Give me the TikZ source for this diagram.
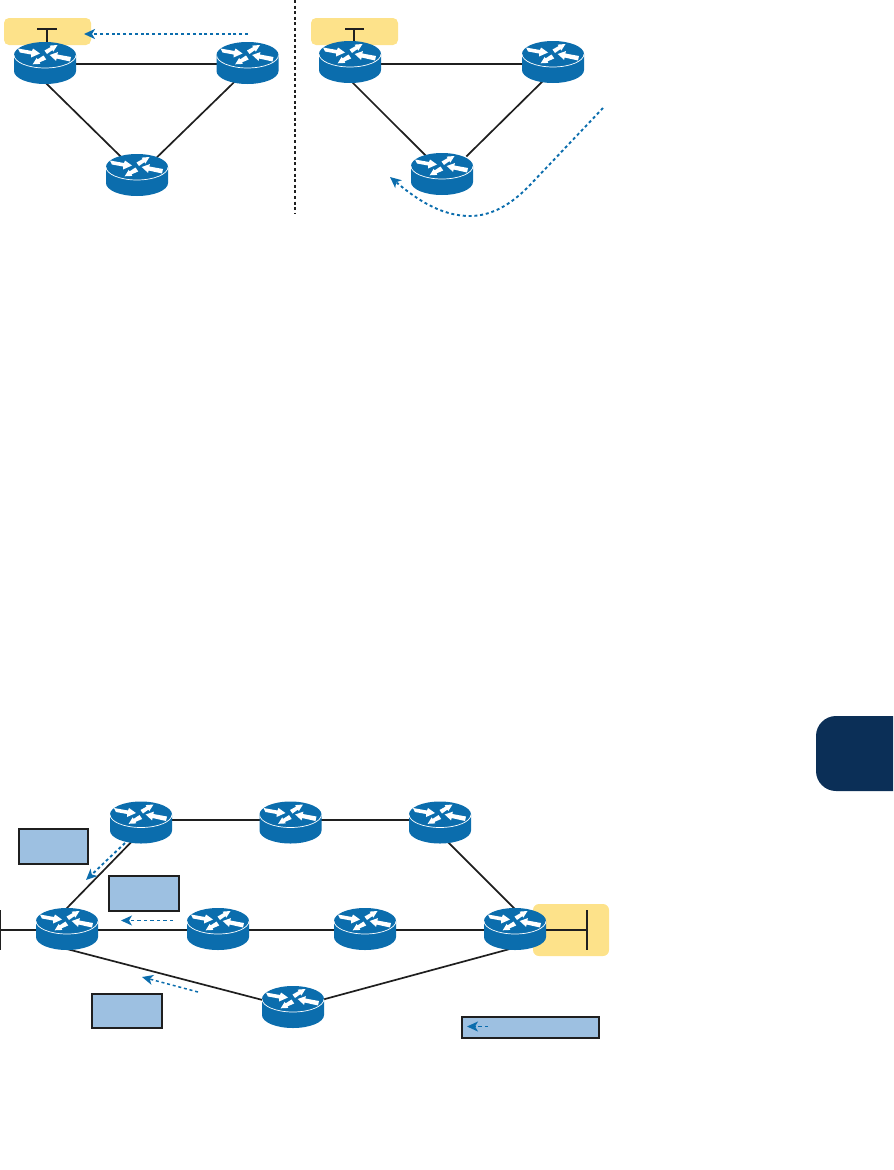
\documentclass[tikz,border=0pt]{standalone}
\usetikzlibrary{arrows.meta,backgrounds}
\definecolor{routerblue}{HTML}{0B6DAD}
\definecolor{zoneyellow}{HTML}{FDE28A}
\definecolor{boxblue}{HTML}{9DC0E1}
\definecolor{tabnavy}{HTML}{0B2F57}
\tikzset{
	router/.style={minimum width=62pt,minimum height=42pt,inner sep=0pt,outer sep=0pt,
		path picture={
			\begin{scope}[shift={(path picture bounding box.center)}]
				\fill[routerblue] (-31,-8) -- (-31,8) arc[start angle=180,end angle=0,x radius=31,y radius=13] -- (31,-8) -- cycle;
				\fill[routerblue] (0,-8) ellipse [x radius=31,y radius=13];
				\draw[white,line width=0.7pt] (-31,-8) arc[start angle=180,end angle=0,x radius=31,y radius=13];
				\fill[white] (-27,-14.5) -- (-13,-12) -- (-12,-14.5) -- (-5,-9.5) -- (-14,-5.5) -- (-14,-8.5) -- (-25,-10.5) -- cycle;
				\fill[white] (-0.5,-12.5) -- (5.6,-15.9) -- (4.7,-17.4) -- (12.5,-18) -- (8.3,-11.4) -- (7.4,-12.9) -- (2,-9) -- cycle;
				\fill[white] (26,-6) -- (12.4,-8.5) -- (12.9,-10.9) -- (4.7,-8) -- (11.1,-2.1) -- (11.6,-4.5) -- (25,-1.5) -- cycle;
				\fill[white] (1.2,-3.5) -- (-5.6,-0.6) -- (-4.7,0.9) -- (-12.3,1.3) -- (-8.3,-5.1) -- (-7.4,-3.6) -- (-1.5,-7.5) -- cycle;
			\end{scope}
		}},
	link/.style={line width=1.7pt,black!88,shorten <=-5pt,shorten >=-5pt},
	stub/.style={line width=1.1pt,black!88},
	zone/.style={fill=zoneyellow,rounded corners=5pt,inner sep=0pt,outer sep=0pt},
	costbox/.style={fill=boxblue,draw=black!88,line width=1.3pt,inner sep=0pt,outer sep=0pt},
	flow/.style={routerblue,line width=1.9pt,dash pattern=on 3pt off 2.8pt,-{Stealth[length=11pt,width=10pt,inset=3pt]}},
	thinflow/.style={routerblue,line width=1.1pt,dash pattern=on 3.5pt off 3pt,-{Stealth[length=11pt,width=10pt,inset=3pt]}},
}
\begin{document}
\begin{tikzpicture}[x=1pt,y=-1pt]
	\useasboundingbox (0,0) rectangle (894,1170);
	%Routeurs du haut
	\node[router] (R11) at (45,63) {};
	\node[router] (R12) at (247.5,63) {};
	\node[router] (R13) at (137,175) {};
	\node[router] (R21) at (350,62) {};
	\node[router] (R22) at (553,62) {};
	\node[router] (R23) at (442,174) {};
	%Routeurs du bas
	\node[router] (R31) at (141,822.5) {};
	\node[router] (R32) at (290.5,822.5) {};
	\node[router] (R33) at (440,822.5) {};
	\node[router] (R34) at (67,929) {};
	\node[router] (R35) at (218,929) {};
	\node[router] (R36) at (365,929) {};
	\node[router] (R37) at (515,929) {};
	\node[router] (R38) at (293,1007) {};
	%Rectangles bleus
	\node[costbox,minimum width=69pt,minimum height=35pt] (B1) at (53.5,846.5) {};
	\node[costbox,minimum width=70pt,minimum height=35pt] (B2) at (144,893.5) {};
	\node[costbox,line width=1.7pt,minimum width=70pt,minimum height=34pt] (B3) at (127,1011) {};
	\node[costbox,line width=1.7pt,minimum width=137pt,minimum height=21pt] (B4) at (530.5,1027.5) {};
	%Onglet
	\fill[tabnavy] (893,716) -- (836,716) arc[start angle=-90,end angle=-180,radius=20] -- (816,771) arc[start angle=180,end angle=90,radius=20] -- (893,791) -- cycle;
	%Extremites libres
	\coordinate (T1a) at (37,29);
	\coordinate (T1b) at (57,29);
	\coordinate (T1c) at (47,29);
	\coordinate (T2a) at (345,29);
	\coordinate (T2b) at (364,29);
	\coordinate (T2c) at (354,29);
	\coordinate (L1) at (0,930);
	\coordinate (L2) at (0.7,910);
	\coordinate (L3) at (0.7,950);
	\coordinate (D1) at (587,930);
	\coordinate (D2) at (587,910);
	\coordinate (D3) at (587,950);
	\coordinate (S1) at (295,0);
	\coordinate (S2) at (295,213);
	%Zones et liens
	\begin{scope}[on background layer]
		\node[zone,minimum width=87pt,minimum height=27pt] (Z1) at (47.5,31.5) {};
		\node[zone,minimum width=87pt,minimum height=27pt] (Z2) at (354.5,31.5) {};
		\node[zone,rounded corners=6pt,minimum width=76pt,minimum height=52pt] (Z3) at (571,930) {};
		\draw[link] (R11.-2) -- (R12.182);
		\draw[link] (R11.-85) -- (R13.132);
		\draw[link] (R12.-126) -- (R13.42);
		\draw[link] (R21.-4) -- (R22.184);
		\draw[link] (R21.-82) -- (R23.132);
		\draw[link] (R22.-120) -- (R23.37);
		\draw[link] (R31.5) -- (R32.175);
		\draw[link] (R32.5) -- (R33.175);
		\draw[link] (R33.-66) -- (R37.93);
		\draw[link] (R31.-118) -- (R34.90);
		\draw[link] (R34.-2) -- (R35.182);
		\draw[link] (R35.-2) -- (R36.182);
		\draw[link] (R36.-2) -- (R37.182);
		\draw[link] (R34.-80) -- (R38.167);
		\draw[link] (R38.14) -- (R37.-113);
		\draw[link,shorten <=0pt] (L1) -- (R34.182);
		\draw[link,shorten <=0pt] (D1) -- (R37.-2);
		\draw[stub] (L2) -- (L3);
		\draw[stub] (D2) -- (D3);
		\draw[stub] (T1a) -- (T1b);
		\draw[stub,line width=1.4pt] (T1c) -- ++(0,16);
		\draw[stub] (T2a) -- (T2b);
		\draw[stub] (T2c) -- ++(0,16);
	\end{scope}
	%Trait pointille
	\draw[black!88,line width=2pt,dash pattern=on 3pt off 2.6pt] (S1) -- (S2);
	%Fleches
	\coordinate (F1a) at (248,34);
	\coordinate (F1b) at (84,34);
	\coordinate (F2a) at (603,108);
	\coordinate (F2b) at (530,185);
	\coordinate (F2c) at (470,216);
	\coordinate (F2d) at (390,177);
	\coordinate (F3a) at (125,843);
	\coordinate (F3b) at (86,880);
	\coordinate (F4a) at (173,920.5);
	\coordinate (F4b) at (121,920.5);
	\coordinate (F5a) at (198,992);
	\coordinate (F5b) at (142,977);
	\coordinate (F6a) at (488,1026.5);
	\coordinate (F6b) at (467,1026.5);
	\draw[flow] (F1a) -- (F1b);
	\draw[flow] (F2a) -- (F2b) .. controls (510,206) and (490,216) .. (F2c) .. controls (440,216) and (415,198) .. (F2d);
	\draw[flow] (F3a) -- (F3b);
	\draw[thinflow] (F4a) -- (F4b);
	\draw[flow,line width=1.5pt] (F5a) -- (F5b);
	\draw[thinflow] (F6a) -- (F6b);
\end{tikzpicture}
\end{document}
